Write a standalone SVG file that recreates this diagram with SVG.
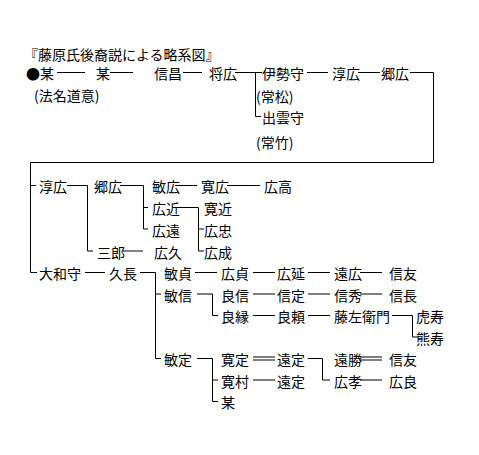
<svg xmlns="http://www.w3.org/2000/svg" width="479" height="455" viewBox="0 0 479 455">
<style>
text{font-family:"Noto Sans CJK JP","Noto Sans CJK SC",sans-serif;font-size:14px;fill:#000}
.c line,.c path{stroke:#000;stroke-width:1;fill:none}
</style>
<rect width="479" height="455" fill="#fff"/>
<text id="title" x="24" y="60">『藤原氏後裔説による略系図』</text>
<g class="c" id="connectors">
<line x1="57" y1="72.5" x2="85" y2="72.5"/>
<line x1="110" y1="72.5" x2="133" y2="72.5"/>
<line x1="183" y1="72.5" x2="202" y2="72.5"/>
<line x1="235" y1="72.5" x2="262" y2="72.5"/>
<path d="M255.5 72.5V116.5H261"/>
<line x1="307" y1="72.5" x2="328" y2="72.5"/>
<line x1="358" y1="72.5" x2="380" y2="72.5"/>
<path d="M410 72.5H433.5V162.5H30.5V272.5H37"/>
<line x1="30.5" y1="185.5" x2="36" y2="185.5"/>
<line x1="67" y1="185.5" x2="87.5" y2="185.5"/>
<path d="M87.5 185.5V251H93"/>
<line x1="120" y1="185.5" x2="143.5" y2="185.5"/>
<path d="M143.5 185.5V229H148"/>
<line x1="143.5" y1="207.5" x2="148" y2="207.5"/>
<line x1="175" y1="185.5" x2="197" y2="185.5"/>
<line x1="227" y1="185.5" x2="260" y2="185.5"/>
<line x1="177" y1="207.5" x2="198.5" y2="207.5"/>
<path d="M198.5 207.5V251H204"/>
<line x1="198.5" y1="229" x2="204" y2="229"/>
<line x1="123" y1="251" x2="143" y2="251"/>
<line x1="85" y1="272.5" x2="105" y2="272.5"/>
<line x1="140" y1="272.5" x2="155.5" y2="272.5"/>
<path d="M155.5 272.5V358.5H161"/>
<line x1="155.5" y1="294" x2="161" y2="294"/>
<line x1="195" y1="272.5" x2="217" y2="272.5"/>
<line x1="253" y1="272.5" x2="275" y2="272.5"/>
<line x1="308" y1="272.5" x2="330" y2="272.5"/>
<line x1="360" y1="272.5" x2="382" y2="272.5"/>
<line x1="197" y1="294" x2="212.5" y2="294"/>
<path d="M212.5 294V315.5H218"/>
<line x1="253" y1="294" x2="275" y2="294"/>
<line x1="308" y1="294" x2="330" y2="294"/>
<line x1="360" y1="294" x2="382" y2="294"/>
<line x1="253" y1="315.5" x2="275" y2="315.5"/>
<line x1="308" y1="315.5" x2="330" y2="315.5"/>
<line x1="392" y1="315.5" x2="412.5" y2="315.5"/>
<path d="M412.5 315.5V337H418"/>
<line x1="197" y1="358.5" x2="212.5" y2="358.5"/>
<path d="M212.5 358.5V401.5H218"/>
<line x1="212.5" y1="380" x2="218" y2="380"/>
<line x1="253" y1="357" x2="275" y2="357"/>
<line x1="253" y1="360" x2="275" y2="360"/>
<line x1="308" y1="358.5" x2="322.5" y2="358.5"/>
<path d="M322.5 358.5V380H330"/>
<line x1="360" y1="357" x2="382" y2="357"/>
<line x1="360" y1="360" x2="382" y2="360"/>
<line x1="253" y1="380" x2="275" y2="380"/>
<line x1="360" y1="380" x2="382" y2="380"/>
</g>
<g id="n1"><text x="26" y="79">●</text><text x="40" y="79">某</text><text x="34" y="101">(法名道意)</text></g>
<g id="n2"><text x="96" y="79">某</text></g>
<g id="n3"><text x="154" y="79">信昌</text></g>
<g id="n4"><text x="209" y="79">将広</text></g>
<g id="n5"><text x="262" y="79">伊勢守</text><text x="256" y="101.5">(常松)</text></g>
<g id="n6"><text x="262" y="123">出雲守</text><text x="256" y="147.5">(常竹)</text></g>
<g id="n7"><text x="332" y="79">淳広</text></g>
<g id="n8"><text x="381" y="79">郷広</text></g>
<g id="n9"><text x="39" y="192">淳広</text></g>
<g id="n10"><text x="94" y="192">郷広</text></g>
<g id="n11"><text x="152" y="192">敏広</text></g>
<g id="n12"><text x="201" y="192">寛広</text></g>
<g id="n13"><text x="264" y="192">広高</text></g>
<g id="n14"><text x="152" y="214">広近</text></g>
<g id="n15"><text x="204" y="214">寛近</text></g>
<g id="n16"><text x="152" y="235.5">広遠</text></g>
<g id="n17"><text x="204" y="235.5">広忠</text></g>
<g id="n18"><text x="97" y="257.5">三郎</text></g>
<g id="n19"><text x="154" y="257.5">広久</text></g>
<g id="n20"><text x="204" y="257.5">広成</text></g>
<g id="n21"><text x="39" y="279">大和守</text></g>
<g id="n22"><text x="109" y="279">久長</text></g>
<g id="n23"><text x="164" y="279">敏貞</text></g>
<g id="n24"><text x="221" y="279">広貞</text></g>
<g id="n25"><text x="277" y="279">広延</text></g>
<g id="n26"><text x="334" y="279">遠広</text></g>
<g id="n27"><text x="389" y="279">信友</text></g>
<g id="n28"><text x="164" y="300.5">敏信</text></g>
<g id="n29"><text x="221" y="300.5">良信</text></g>
<g id="n30"><text x="277" y="300.5">信定</text></g>
<g id="n31"><text x="334" y="300.5">信秀</text></g>
<g id="n32"><text x="389" y="300.5">信長</text></g>
<g id="n33"><text x="221" y="322">良縁</text></g>
<g id="n34"><text x="277" y="322">良頼</text></g>
<g id="n35"><text x="334" y="322">藤左衛門</text></g>
<g id="n36"><text x="416" y="322">虎寿</text></g>
<g id="n37"><text x="416" y="343.5">熊寿</text></g>
<g id="n38"><text x="164" y="365">敏定</text></g>
<g id="n39"><text x="221" y="365">寛定</text></g>
<g id="n40"><text x="277" y="365">遠定</text></g>
<g id="n41"><text x="334" y="365">遠勝</text></g>
<g id="n42"><text x="389" y="365">信友</text></g>
<g id="n43"><text x="221" y="386.5">寛村</text></g>
<g id="n44"><text x="277" y="386.5">遠定</text></g>
<g id="n45"><text x="334" y="386.5">広孝</text></g>
<g id="n46"><text x="389" y="386.5">広良</text></g>
<g id="n47"><text x="221" y="408">某</text></g>
</svg>
